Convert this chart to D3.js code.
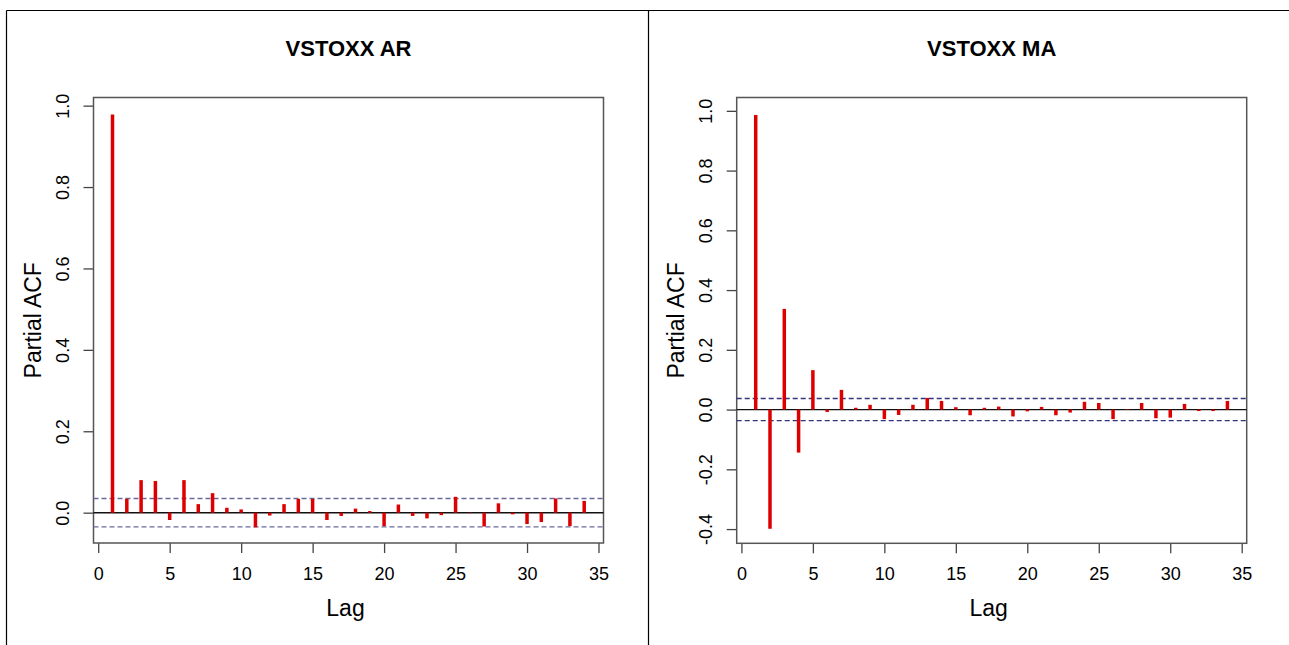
<!DOCTYPE html>
<html>
<head>
<meta charset="utf-8">
<script src="https://cdn.jsdelivr.net/npm/d3@7"></script>
<style>
	body{margin:0;background:#fff;}
	svg{display:block;font-family:"Liberation Sans", Arial, sans-serif;}
</style>
</head>
<body>
<svg id="mainSvg"></svg>
<script>
//Lags 1..34
const lags = d3.range(1, 35);

//Partial ACF values
const arPacf = [0.978, 0.034, 0.080, 0.078, -0.018, 0.080, 0.021, 0.048, 0.012, 0.008,
	-0.036, -0.007, 0.021, 0.034, 0.034, -0.018, -0.008, 0.010, 0.004, -0.033,
	0.020, -0.008, -0.014, -0.006, 0.039, -0.001, -0.034, 0.023, -0.004, -0.028,
	-0.023, 0.035, -0.033, 0.029];
const maPacf = [0.986, -0.399, 0.337, -0.144, 0.132, -0.008, 0.066, 0.006, 0.016, -0.032,
	-0.018, 0.016, 0.039, 0.029, 0.008, -0.019, 0.006, 0.010, -0.023, -0.006,
	0.009, -0.019, -0.010, 0.026, 0.022, -0.032, 0.002, 0.022, -0.029, -0.027,
	0.019, -0.005, -0.005, 0.029];

//Confidence bounds (+/-)
const arCi = 0.035;
const maCi = 0.037;

//Tick values
const xTicks = [0, 5, 10, 15, 20, 25, 30, 35];
const arYTicks = [0.0, 0.2, 0.4, 0.6, 0.8, 1.0];
const maYTicks = [-0.4, -0.2, 0.0, 0.2, 0.4, 0.6, 0.8, 1.0];

const titles = ["VSTOXX AR", "VSTOXX MA"];

const [w, h] = [1289, 645];
const svg = d3.select("#mainSvg").attr("width", w).attr("height", h);

//Outer frame lines
svg.append("line").attr("x1", 6.5).attr("x2", w).attr("y1", 10.5).attr("y2", 10.5).attr("stroke", "#000").attr("stroke-width", 1.2);
svg.append("line").attr("x1", 6.5).attr("x2", 6.5).attr("y1", 10.5).attr("y2", h).attr("stroke", "#000").attr("stroke-width", 1.2);
svg.append("line").attr("x1", 648.5).attr("x2", 648.5).attr("y1", 10.5).attr("y2", h).attr("stroke", "#000").attr("stroke-width", 1.2);

//R style labels use a plain hyphen for minus
const fmt1 = d => d3.format(".1f")(d).replace("\u2212", "-");

function drawPanel(opts){
	const {left, right, top, bottom, values, ci, yDomain, yTicks, title, ciColor} = opts;

	const xScale = d3.scaleLinear().domain([-0.33, 35.35]).range([left, right]);
	const yScale = d3.scaleLinear().domain(yDomain).range([bottom, top]);
	const g = svg.append("g");

	//Title
	g.append("text").attr("x", (left + right) / 2).attr("y", 56).attr("text-anchor", "middle")
		.style("font-size", "22px").style("font-weight", "bold").text(title);

	//Axes
	const xAxis = d3.axisBottom(xScale).tickValues(xTicks).tickSize(10).tickPadding(14).tickFormat(d3.format("d"));
	const yAxis = d3.axisLeft(yScale).tickValues(yTicks).tickSize(10).tickFormat(fmt1);

	const xg = g.append("g").attr("transform", `translate(0, ${bottom})`).call(xAxis);
	const yg = g.append("g").attr("transform", `translate(${left}, 0)`).call(yAxis);
	[xg, yg].forEach(a => {
		a.select(".domain").remove();
		a.selectAll(".tick line").attr("stroke", "#444").attr("stroke-width", 1.3);
		a.selectAll(".tick text").attr("fill", "#000").style("font-size", "18px").attr("font-family", null);
	});
	yg.selectAll(".tick text")
		.attr("x", null).attr("dy", null)
		.attr("text-anchor", "middle")
		.attr("transform", `translate(-31, 0) rotate(-90) translate(0, 6.5)`);

	//Axis titles
	g.append("text").attr("x", (left + right) / 2 - 3).attr("y", 616).attr("text-anchor", "middle")
		.style("font-size", "23px").text("Lag");
	g.append("text").attr("transform", `translate(${left - 53}, ${(top + bottom) / 2}) rotate(-90)`)
		.attr("text-anchor", "middle").style("font-size", "23px").text("Partial ACF");

	//Plot box
	g.append("rect").attr("x", left).attr("y", top).attr("width", right - left).attr("height", bottom - top)
		.attr("fill", "none").attr("stroke", "#555").attr("stroke-width", 1.5);

	//Zero line
	g.append("line").attr("x1", left).attr("x2", right).attr("y1", yScale(0)).attr("y2", yScale(0))
		.attr("stroke", "#111").attr("stroke-width", 1.4);

	//Confidence lines
	g.selectAll(".ci").data([ci, -ci]).enter().append("line").attr("class", "ci")
		.attr("x1", left).attr("x2", right).attr("y1", d => yScale(d)).attr("y2", d => yScale(d))
		.attr("stroke", ciColor).attr("stroke-width", 1.4).attr("stroke-dasharray", "5,3");

	//Spikes
	g.selectAll(".spike").data(lags).enter().append("line").attr("class", "spike")
		.attr("x1", d => xScale(d)).attr("x2", d => xScale(d))
		.attr("y1", yScale(0)).attr("y2", (d, i) => yScale(values[i]))
		.attr("stroke", "#dd0000").attr("stroke-width", 3.5);
}

drawPanel({left: 93.5, right: 603.5, top: 97.5, bottom: 543, values: arPacf, ci: arCi,
	yDomain: [-0.0745, 1.020], yTicks: arYTicks, title: titles[0], ciColor: "#6a6a9c"});
drawPanel({left: 736.7, right: 1246.7, top: 97.5, bottom: 543.3, values: maPacf, ci: maCi,
	yDomain: [-0.4476, 1.0446], yTicks: maYTicks, title: titles[1], ciColor: "#33337f"});
</script>
</body>
</html>
